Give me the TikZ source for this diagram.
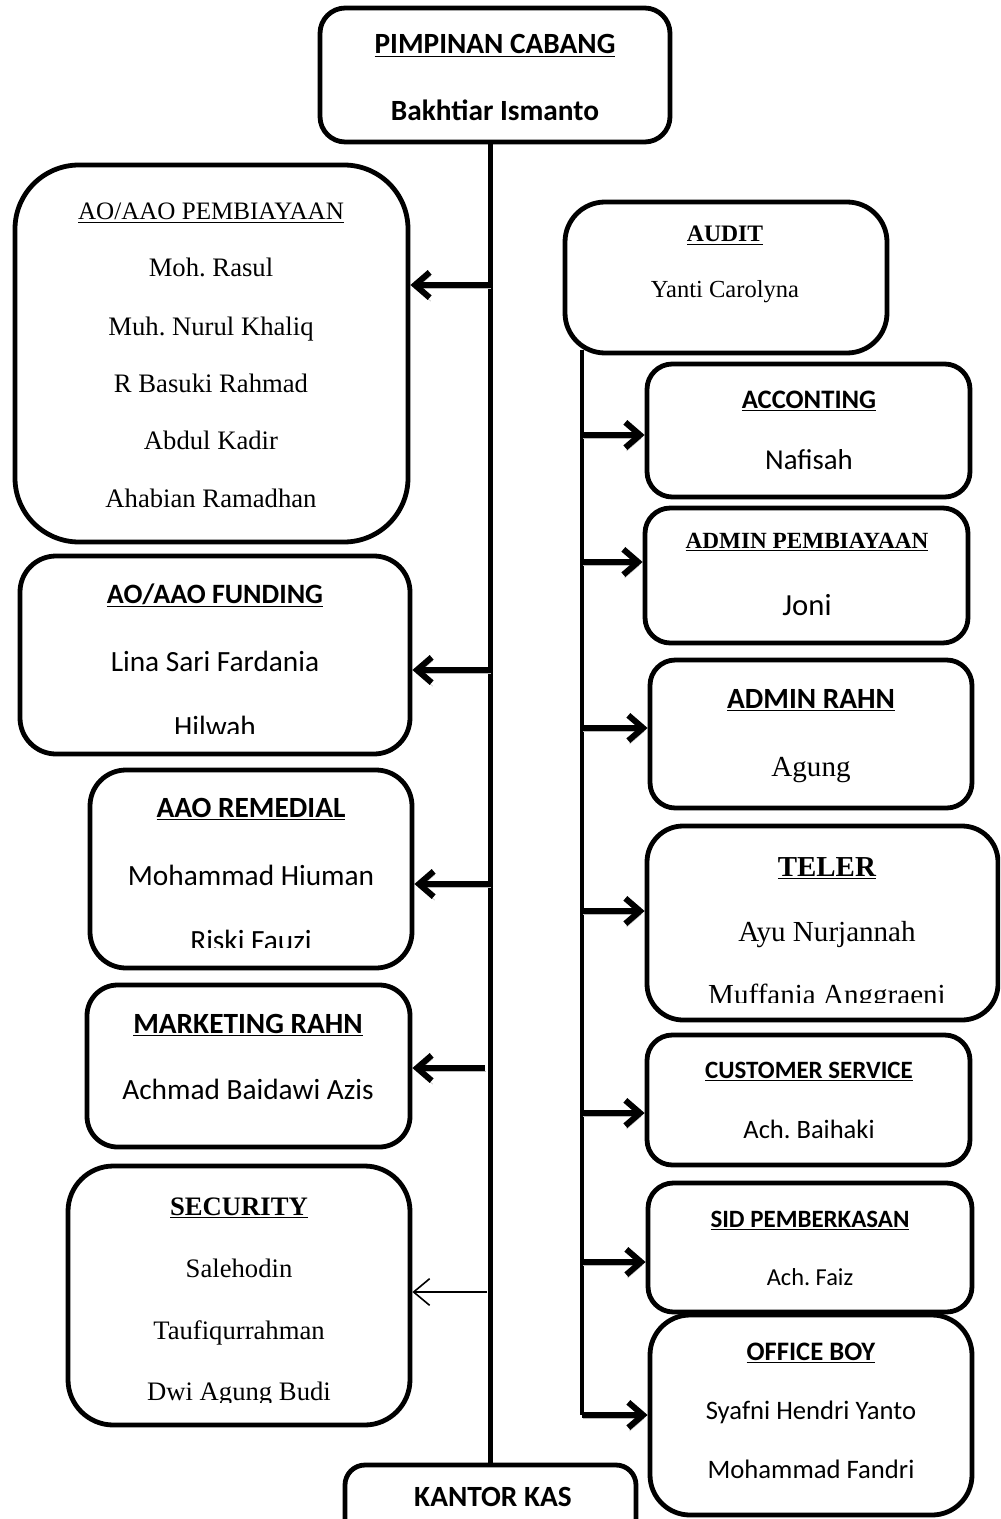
\documentclass[tikz,border=0pt]{standalone}
\usepackage{fontspec}
\setmainfont{Liberation Serif}
\setsansfont{Carlito}
\usetikzlibrary{fit,arrows.meta}
\frenchspacing
\tikzset{
box/.style=
    {draw,
    line width=3.6pt,
    inner sep=0pt
    },
trunk/.style=
    {line width=3.9pt
    },
arr/.style=
    {line width=4.5pt,
    -{Straight Barb[length=11pt,width=19pt]},
    preaction={draw=gray!55,transform canvas={xshift=0.8pt,yshift=-2.6pt}}
    },
thinarr/.style=
    {line width=1.2pt,
    -{Straight Barb[length=12pt,width=20pt]}
    },
sf/.style={font=\sffamily\fontsize{#1}{#1}\selectfont,anchor=base,inner sep=0pt},
rm/.style={font=\rmfamily\fontsize{#1}{#1}\selectfont,anchor=base,inner sep=0pt}
}
\begin{document}
\begin{tikzpicture}[x=0.75pt,y=-0.75pt]
\clip (0,0) rectangle (1000,1519);
\fill[white] (0,0) rectangle (1000,1519);

% top and bottom
\node[box,rounded corners=19pt,fit={(320,8) (670,142)}] (pim) {};
\node[sf=22] (pimt) at (495,54) {\underline{\textbf{PIMPINAN CABANG}}};
\node[sf=22] (pimn) at (495,121) {\textbf{Bakhtiar Ismanto}};
\node[box,rounded corners=15pt,fit={(345,1465) (636,1560)}] (kas) {};
\node[sf=22] (kast) at (493,1506) {\textbf{KANTOR KAS}};

% left side
\node[box,rounded corners=48pt,fit={(15,165) (408,542)}] (pemb) {};
\node[rm=18.8] (pembt) at (211,220) {\underline{AO/AAO PEMBIAYAAN}};
\node[rm=20] (pemb1) at (211,277) {Moh. Rasul};
\node[rm=20] (pemb2) at (211,335) {Muh. Nurul Khaliq};
\node[rm=20] (pemb3) at (211,392) {R Basuki Rahmad};
\node[rm=20] (pemb4) at (211,449) {Abdul Kadir};
\node[rm=20] (pemb5) at (211,507) {Ahabian Ramadhan};

\node[box,rounded corners=27pt,fit={(20,556) (410,754)}] (fund) {};
\node[sf=21] (fundt) at (215,603) {\underline{\textbf{AO/AAO FUNDING}}};
\node[sf=22] (fund1) at (215,671) {Lina Sari Fardania};
\begin{scope}
\clip (30,700) rectangle (400,733);
\node[sf=22] (fund2) at (215,736) {Hilwah};
\end{scope}

\node[box,rounded corners=27pt,fit={(90,770) (412,968)}] (rem) {};
\node[sf=22] (remt) at (251,817) {\underline{\textbf{AAO REMEDIAL}}};
\node[sf=22] (rem1) at (251,885) {Mohammad Hiuman};
\begin{scope}
\clip (100,915) rectangle (400,947);
\node[sf=22] (rem2) at (251,950) {Riski Fauzi};
\end{scope}

\node[box,rounded corners=23pt,fit={(87,985) (410,1147)}] (mkt) {};
\node[sf=22] (mktt) at (248,1033) {\underline{\textbf{MARKETING RAHN}}};
\node[sf=22] (mkt1) at (248,1099) {Achmad Baidawi Azis};

\node[box,rounded corners=34pt,fit={(68,1166) (410,1425)}] (sec) {};
\node[rm=20] (sect) at (239,1215) {\underline{\textbf{SECURITY}}};
\node[rm=20] (sec1) at (239,1277) {Salehodin};
\node[rm=20] (sec2) at (239,1339) {Taufiqurrahman};
\begin{scope}
\clip (80,1370) rectangle (400,1402);
\node[rm=20] (sec3) at (239,1400) {Dwi Agung Budi};
\end{scope}

% right side
\node[box,rounded corners=30pt,fit={(565,202) (887,353)}] (aud) {};
\node[rm=17.7] (audt) at (725,242) {\underline{\textbf{AUDIT}}};
\node[rm=18.4] (aud1) at (725,298) {Yanti Carolyna};

\node[box,rounded corners=19pt,fit={(647,364) (970,497)}] (acc) {};
\node[sf=20] (acct) at (809,408) {\underline{\textbf{ACCONTING}}};
\node[sf=21.6] (acc1) at (809,469) {Nafisah};

\node[box,rounded corners=19pt,fit={(645,508) (968,643)}] (admp) {};
\node[rm=17.4] (admpt) at (807,548) {\underline{\textbf{ADMIN PEMBIAYAAN}}};
\node[sf=23] (admp1) at (807,615) {Joni};

\node[box,rounded corners=19pt,fit={(650,660) (972,808)}] (admr) {};
\node[sf=22] (admrt) at (811,708) {\underline{\textbf{ADMIN RAHN}}};
\node[rm=21.8] (admr1) at (811,776) {Agung};

\node[box,rounded corners=27pt,fit={(647,826) (998,1020)}] (tel) {};
\node[rm=21.7] (telt) at (827,876) {\underline{\textbf{TELER}}};
\node[rm=21.8] (tel1) at (827,941) {Ayu Nurjannah};
\begin{scope}
\clip (660,970) rectangle (990,1002);
\node[rm=21.8] (tel2) at (827,1004) {Muffania Anggraeni};
\end{scope}

\node[box,rounded corners=19pt,fit={(647,1035) (970,1165)}] (cs) {};
\node[sf=18.7] (cst) at (809,1078) {\underline{\textbf{CUSTOMER SERVICE}}};
\node[sf=19.9] (cs1) at (809,1138) {Ach. Baihaki};

\node[box,rounded corners=19pt,fit={(648,1183) (972,1312)}] (sid) {};
\node[sf=18.7] (sidt) at (810,1227) {\underline{\textbf{SID PEMBERKASAN}}};
\node[sf=18.3] (sid1) at (810,1285) {Ach. Faiz};

\node[box,rounded corners=30pt,fit={(650,1315) (972,1515)}] (ob) {};
\node[sf=20] (obt) at (811,1360) {\underline{\textbf{OFFICE BOY}}};
\node[sf=20] (ob1) at (811,1419) {Syafni Hendri Yanto};
\node[sf=20] (ob2) at (811,1478) {Mohammad Fandri};

% connectors
\draw[trunk] (kas.north |- pim.south) -- (kas.north);
\coordinate (t1) at (490,285);
\coordinate (t2) at (490,670);
\coordinate (t3) at (490,884);
\coordinate (t4) at (485,1068);
\coordinate (t5) at (487,1292);
\draw[arr] (t1) -- (t1 -| pemb.east);
\draw[arr] (t2) -- (t2 -| fund.east);
\draw[arr] (t3) -- (t3 -| rem.east);
\draw[arr] (t4) -- (t4 -| mkt.east);
\draw[thinarr] (t5) -- (t5 -| sec.east);

\coordinate (s0) at (582,350);
\coordinate (s1) at (582,435);
\coordinate (s2) at (582,562);
\coordinate (s3) at (582,728);
\coordinate (s4) at (582,911);
\coordinate (s5) at (582,1113);
\coordinate (s6) at (582,1262);
\coordinate (s7) at (582,1415);
\draw[trunk,line width=3.6pt] (s0) -- (s7);
\draw[arr] (s1) -- (s1 -| acc.west);
\draw[arr] (s2) -- (s2 -| admp.west);
\draw[arr] (s3) -- (s3 -| admr.west);
\draw[arr] (s4) -- (s4 -| tel.west);
\draw[arr] (s5) -- (s5 -| cs.west);
\draw[arr] (s6) -- (s6 -| sid.west);
\draw[arr] (s7) -- (s7 -| ob.west);

\end{tikzpicture}
\end{document}
